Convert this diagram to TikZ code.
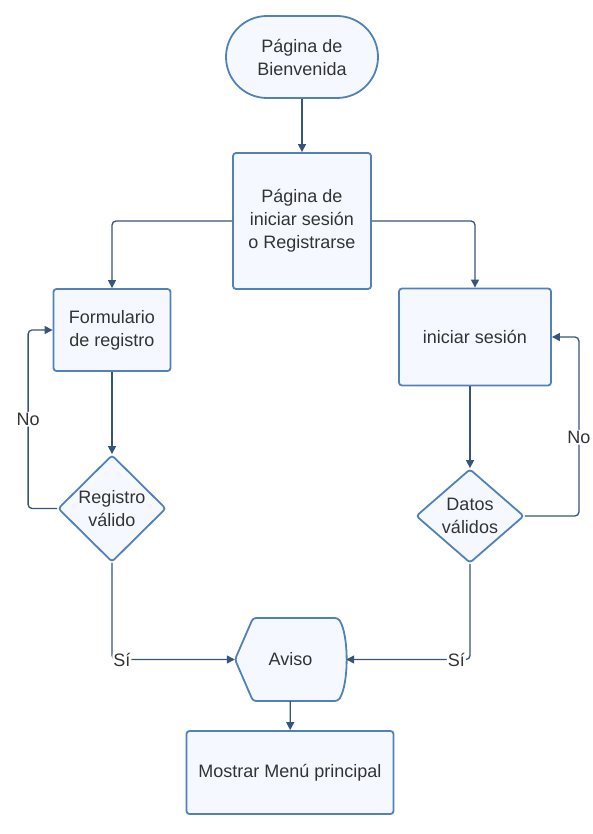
\documentclass[tikz,border=0pt]{standalone}
\usepackage{fontspec}
\setmainfont{Liberation Sans}
\usetikzlibrary{shapes.geometric,arrows.meta}

\definecolor{boxedge}{RGB}{80,130,185}
\definecolor{boxfill}{RGB}{245,249,255}
\definecolor{flowline}{RGB}{55,85,122}
\definecolor{textgray}{RGB}{51,51,51}

\tikzset{
  every node/.style={text=textgray, font=\fontsize{18}{23}\selectfont},
  box/.style={draw=boxedge, fill=boxfill, line width=1.8pt, rounded corners=3pt, align=center, inner sep=0pt},
  decision/.style={box, diamond, aspect=#1},
  decision/.default=1,
  flow/.style={draw=flowline, line width=1.3pt, rounded corners=4pt, -{Triangle[length=8pt,width=8pt]}},
  lbl/.style={fill=white, inner sep=1pt}
}

\begin{document}
\begin{tikzpicture}[x=1pt, y=-1pt]
		\useasboundingbox (0,0) rectangle (593,834);

		\node[box, rounded corners=41pt, minimum width=152pt, minimum height=82pt] (start) at (302,57) {Página de\\Bienvenida};
		\node[box, minimum width=138pt, minimum height=136pt] (login) at (302,221) {Página de\\iniciar sesión\\o Registrarse};
		\node[box, minimum width=117pt, minimum height=82pt] (form) at (112,330) {Formulario\\de registro};
		\node[box, minimum width=152pt, minimum height=97pt] (iniciar) at (475,337) {iniciar sesión};
		\node[decision, minimum width=108pt, minimum height=107pt] (regok) at (112,508.5) {Registro\\válido};
		\node[decision=1.15, minimum width=108pt, minimum height=94pt] (datok) at (470,516) {Datos\\válidos};

		% aviso (display shape)
		\draw[draw=boxedge, fill=boxfill, line width=1.8pt, rounded corners=3pt]
			(235,659.5) -- (253,618) -- (338,618)
			.. controls (349,635) and (349,684) .. (338,701) -- (253,701) -- cycle;
		\node[minimum width=111pt, minimum height=83pt, inner sep=0pt] (aviso) at (290.5,659.5) {Aviso};

		\node[box, minimum width=207pt, minimum height=83pt] (menu) at (290,772.5) {Mostrar Menú principal};

		\draw[flow] (start) -- (login);
		\draw[flow] (login.west) -| (form.north);
		\draw[flow] (login.east) -| (iniciar.north);
		\draw[flow] (form) -- (regok);
		\draw[flow] (iniciar.south -| datok.north) -- (datok.north);
		\draw[flow] (regok.west) -- ++(-29,0) |- (form.west) node[lbl, pos=0.25] {No};
		\draw[flow] (datok.east) -- ++(54,0) |- (iniciar.east) node[lbl, pos=0.22] {No};
		\draw[flow] (regok.south) |- (aviso.west) node[lbl, pos=0.54] {Sí};
		\draw[flow] (datok.south) |- (aviso.east) node[lbl, pos=0.555] {Sí};
		\draw[flow] (aviso) -- (menu);
\end{tikzpicture}
\end{document}
